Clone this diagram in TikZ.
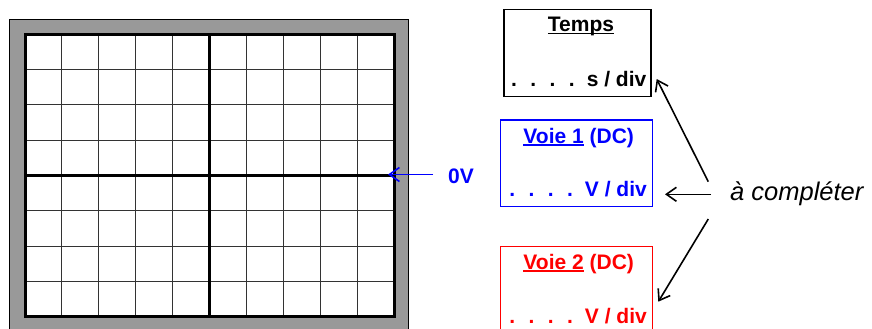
\documentclass[tikz,border=0pt]{standalone}
\usepackage{fontspec}
\setmainfont{Liberation Sans}
\usetikzlibrary{arrows.meta}
\newcommand\myul[1]{\setbox0\hbox{#1}\rlap{\rule[-2.6pt]{\wd0}{1.6pt}}\box0\relax}
\newcommand\dotsrow{.\hspace{13.4pt}.\hspace{13.4pt}.\hspace{13.4pt}.\hspace{12pt}}
\tikzset{
  lbl/.style={inner sep=0pt, font=\fontsize{21}{25}\selectfont\bfseries},
  boxframe/.style={draw, line width=1.1pt, minimum width=#1, inner sep=0pt},
  barb/.style={-{Straight Barb[length=10pt,width=14pt]}, line width=1.6pt},
  minor/.style={line width=0.9pt, draw=black!80},
}
\begin{document}
\begin{tikzpicture}[x=1pt,y=-1pt]
\useasboundingbox (0,0) rectangle (872,329);
\clip (0,0) rectangle (872,329);
% oscilloscope frame
\filldraw[fill=black!40, draw=black, line width=1pt] (9.5,19.5) rectangle (408,345);
\fill[white] (25,34.3) rectangle (394,316.7);
\foreach \i in {1,...,9} {
  \draw[minor] ({25+\i*36.9},34.3) -- ({25+\i*36.9},316.7);
}
\foreach \j in {1,...,7} {
  \draw[minor] (25,{34.3+\j*35.3}) -- (394,{34.3+\j*35.3});
}
\draw[line width=2.6pt] (209.5,34.3) -- (209.5,316.7);
\draw[line width=2.6pt] (25,175.5) -- (394,175.5);
\draw[line width=3pt] (25,34.3) rectangle (394,316.7);
% 0V marker
\node[lbl, text=blue, anchor=base west] (zero) at (448,183.3) {0V};
\coordinate (zs) at (433,174.5);
\coordinate (ze) at (388,174.5);
\draw[barb, draw=blue] (zs) -- (ze);
% boxes
\node[boxframe=147pt, minimum height=86.7pt] (tbox) at (577.5,53.3) {};
\node[boxframe=152pt, minimum height=86.7pt, draw=blue] (v1box) at (576.7,163.3) {};
\node[boxframe=152pt, minimum height=100pt, draw=red] (v2box) at (576.7,296.7) {};
% texts
\node[lbl, anchor=base] (ttitle) at (581,31.7) {\myul{Temps}};
\node[lbl, anchor=base east] (tunit) at (646.5,86.7) {\dotsrow s / div};
\node[lbl, text=blue, anchor=base] (v1title) at (578.7,143.3) {\myul{Voie 1} (DC)};
\node[lbl, text=blue, anchor=base east] (v1unit) at (647,196.7) {\dotsrow V / div};
\node[lbl, text=red, anchor=base] (v2title) at (578.7,269.3) {\myul{Voie 2} (DC)};
\node[lbl, text=red, anchor=base east] (v2unit) at (647,323.3) {\dotsrow V / div};
\node[inner sep=0pt, anchor=base west, font=\fontsize{25.5}{29}\selectfont\itshape] (comp) at (730,200) {à compléter};
% arrows
\coordinate (a1s) at (708.3,181.7);
\coordinate (a1e) at (656.7,79);
\coordinate (a2s) at (711,194.3);
\coordinate (a2e) at (665,194.3);
\coordinate (a3s) at (708.3,219);
\coordinate (a3e) at (658.3,301.7);
\draw[barb] (a1s) -- (a1e);
\draw[barb] (a2s) -- (a2e);
\draw[barb] (a3s) -- (a3e);
\end{tikzpicture}
\end{document}
